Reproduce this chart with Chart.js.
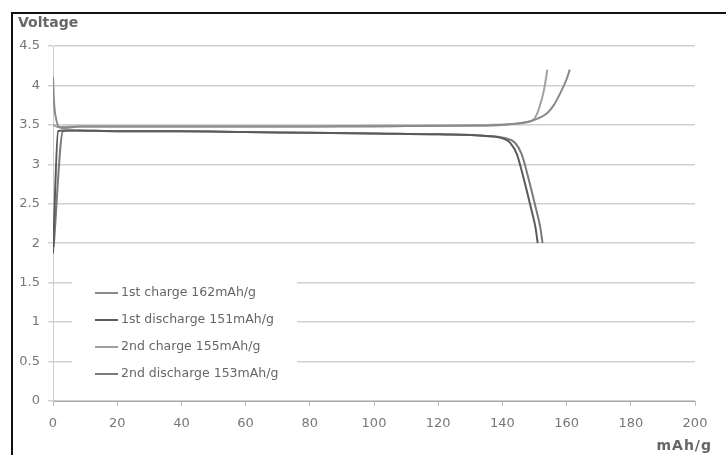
<!DOCTYPE html>
<html lang="en">
<head>
  <meta charset="UTF-8" />
  <title>Charge / discharge curves</title>
  <script src="https://cdn.jsdelivr.net/npm/chart.js"></script>
  <style>
    body {
      margin: 0;
      background: #fff;
      overflow: hidden;
      font-family: 'DejaVu Sans', sans-serif;
    }
    #wrap {
      position: relative;
      width: 726px;
      height: 455px;
      overflow: hidden;
    }
    #frame {
      position: absolute;
      left: 11px;
      top: 12px;
      width: 713px;
      height: 441px;
      border-left: 2px solid #111;
      border-top: 2px solid #111;
      pointer-events: none;
    }
  </style>
</head>
<body>
  <div id="wrap">
    <canvas id="cell" width="726" height="455"></canvas>
    <div id="frame"></div>
  </div>

  <script>
    // series labels and colours
    const seriesNames = ["1st charge 162mAh/g", "1st discharge 151mAh/g", "2nd charge 155mAh/g", "2nd discharge 153mAh/g"];
    const seriesColors = ["#8a8a8a", "#5a5a5a", "#a0a0a0", "#7a7a7a"];

    // values (capacity mAh/g, voltage V)
    const charge1X = [0, 0.3, 1, 2, 4, 8, 20, 40, 60, 80, 100, 120, 135, 143, 148, 151, 154, 156, 158, 160, 161];
    const charge1Y = [4.11, 3.8, 3.57, 3.47, 3.46, 3.48, 3.48, 3.48, 3.48, 3.48, 3.48, 3.49, 3.49, 3.51, 3.54, 3.58, 3.65, 3.75, 3.9, 4.08, 4.2];

    const discharge1X = [0, 1.6, 3, 6, 20, 40, 60, 80, 100, 120, 135, 140, 142.5, 144.5, 146, 147.5, 149, 150.3, 151];
    const discharge1Y = [1.87, 3.42, 3.43, 3.43, 3.42, 3.42, 3.41, 3.4, 3.39, 3.38, 3.36, 3.33, 3.27, 3.13, 2.92, 2.68, 2.43, 2.2, 2.0];

    const charge2X = [0, 2, 5, 20, 40, 60, 80, 100, 120, 135, 143, 147, 150, 151.5, 153, 154];
    const charge2Y = [3.5, 3.47, 3.48, 3.48, 3.48, 3.48, 3.48, 3.49, 3.49, 3.5, 3.51, 3.53, 3.58, 3.72, 3.95, 4.2];

    const discharge2X = [0.2, 3.1, 5, 8, 20, 40, 60, 80, 100, 120, 135, 141, 144, 146, 147.5, 149, 150.5, 151.8, 152.5];
    const discharge2Y = [1.95, 3.42, 3.43, 3.43, 3.42, 3.42, 3.41, 3.4, 3.39, 3.38, 3.36, 3.33, 3.27, 3.13, 2.92, 2.68, 2.43, 2.2, 2.0];

    const xTicks = [0, 20, 40, 60, 80, 100, 120, 140, 160, 180, 200];
    const yTicks = [0, 0.5, 1, 1.5, 2, 2.5, 3, 3.5, 4, 4.5];

    const seriesX = [charge1X, discharge1X, charge2X, discharge2X];
    const seriesY = [charge1Y, discharge1Y, charge2Y, discharge2Y];

    const datasets = seriesNames.map((name, i) => ({
      label: name,
      data: seriesX[i].map((x, j) => ({ x: x, y: seriesY[i][j] })),
      borderColor: seriesColors[i],
      borderWidth: 2,
      pointRadius: 0,
      fill: false,
      cubicInterpolationMode: "monotone"
    }));

    // legend box over the plot plus the two axis captions
    const extras = {
      id: "extras",
      afterDraw(chart) {
        const ctx = chart.ctx;
        ctx.save();
        ctx.fillStyle = "#fff";
        ctx.fillRect(72, 266, 225, 120);
        ctx.font = "12.5px 'DejaVu Sans'";
        ctx.textBaseline = "middle";
        chart.data.datasets.forEach((ds, i) => {
          const y = 293 + i * 27;
          ctx.strokeStyle = ds.borderColor;
          ctx.lineWidth = 2;
          ctx.beginPath();
          ctx.moveTo(95, y);
          ctx.lineTo(118, y);
          ctx.stroke();
          ctx.fillStyle = "#666";
          ctx.fillText(ds.label, 121, y);
        });

        ctx.font = "bold 14px 'DejaVu Sans'";
        ctx.fillStyle = "#666";
        ctx.textAlign = "left";
        ctx.fillText("Voltage", 18, 23);
        ctx.letterSpacing = "1px";
        ctx.textAlign = "right";
        ctx.fillText("mAh/g", 712, 446);
        ctx.restore();
      }
    };

    new Chart(document.getElementById("cell"), {
      type: "line",
      data: { datasets },
      plugins: [extras],
      options: {
        responsive: false,
        animation: false,
        layout: { padding: { left: 0, top: 46, right: 31, bottom: 0 } },
        plugins: {
          legend: { display: false },
          tooltip: { enabled: false }
        },
        scales: {
          x: {
            type: "linear",
            min: 0,
            max: 200,
            afterFit: s => { s.height = 54; },
            afterBuildTicks: s => { s.ticks = xTicks.map(v => ({ value: v })); },
            border: { color: "#aaa", width: 1 },
            grid: { drawOnChartArea: false, tickLength: 5, color: "#bbb" },
            ticks: { color: "#777", padding: 10, maxRotation: 0, callback: v => String(v), font: { family: "DejaVu Sans", size: 13 } }
          },
          y: {
            min: 0,
            max: 4.5,
            afterFit: s => { s.width = 53; },
            afterBuildTicks: s => { s.ticks = yTicks.map(v => ({ value: v })); },
            border: { color: "#ccc", width: 1 },
            grid: { color: "#d0d0d0", tickLength: 5, lineWidth: 1.5 },
            ticks: { color: "#777", padding: 8, callback: v => String(v), font: { family: "DejaVu Sans", size: 13 } }
          }
        }
      }
    });
  </script>
</body>
</html>
